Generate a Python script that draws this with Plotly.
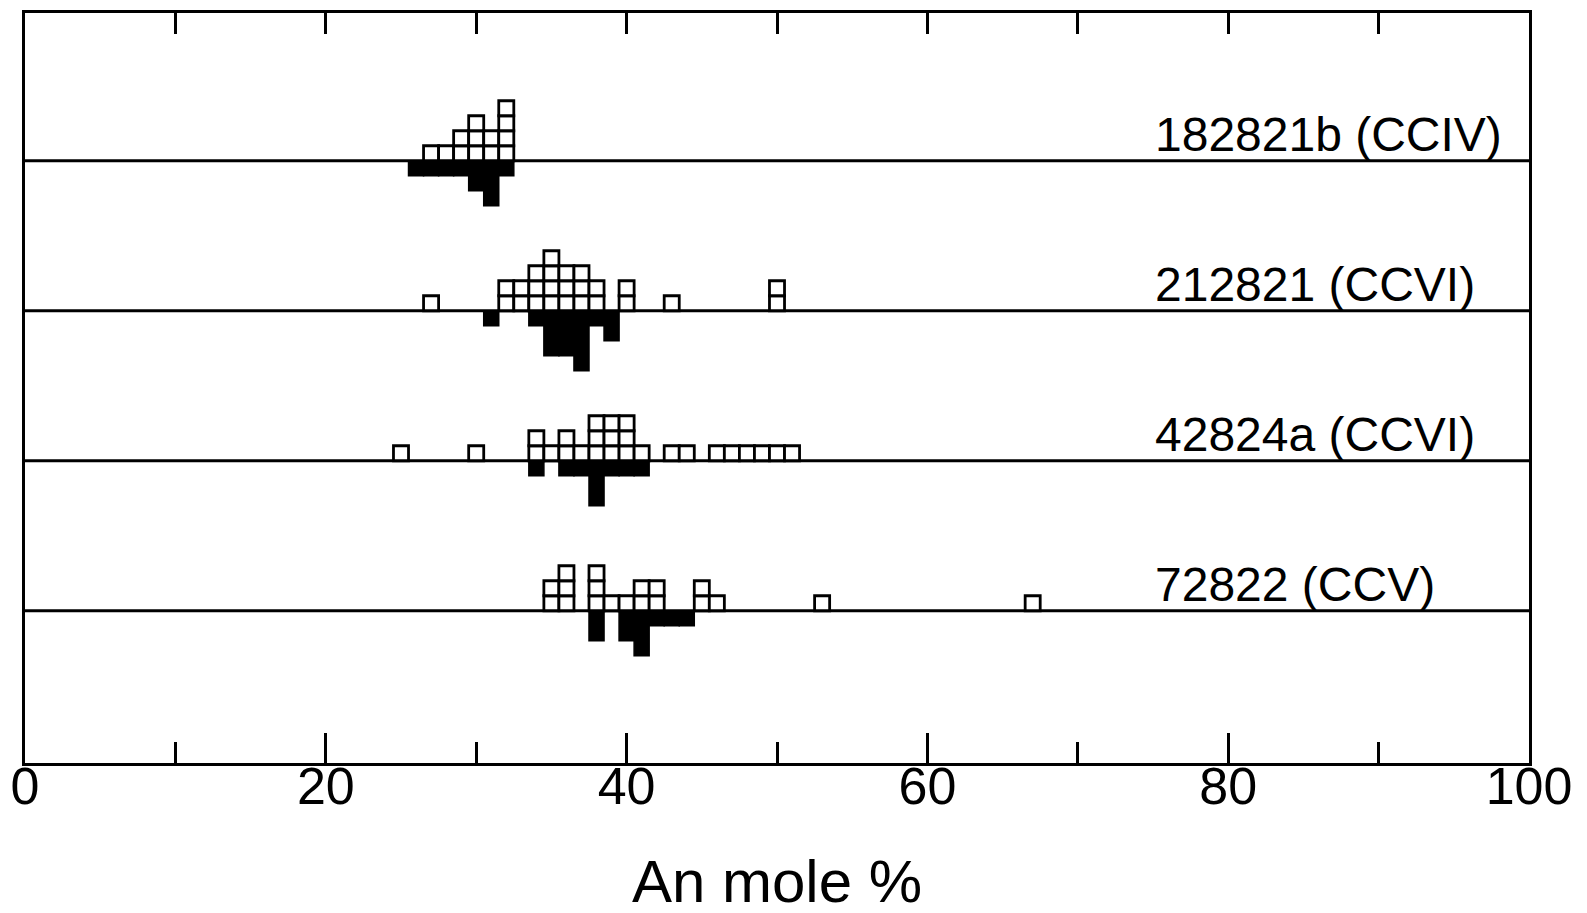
import plotly.graph_objects as go

# ---------------- data (An mole % bins, square counts) ----------------
samples = ["182821b (CCIV)", "212821 (CCVI)", "42824a (CCVI)", "72822 (CCV)"]

open_182821b_an = [27, 28, 29, 30, 31, 32]
open_182821b_n = [1, 1, 2, 3, 2, 4]
filled_182821b_an = [26, 27, 28, 29, 30, 31, 32]
filled_182821b_n = [1, 1, 1, 1, 2, 3, 1]

open_212821_an = [27, 32, 33, 34, 35, 36, 37, 38, 40, 43, 50]
open_212821_n = [1, 2, 2, 3, 4, 3, 3, 2, 2, 1, 2]
filled_212821_an = [31, 34, 35, 36, 37, 38, 39]
filled_212821_n = [1, 1, 3, 3, 4, 1, 2]

open_42824a_an = [25, 30, 34, 35, 36, 37, 38, 39, 40, 41, 43, 44, 46, 47, 48, 49, 50, 51]
open_42824a_n = [1, 1, 2, 1, 2, 1, 3, 3, 3, 1, 1, 1, 1, 1, 1, 1, 1, 1]
filled_42824a_an = [34, 36, 37, 38, 39, 40, 41]
filled_42824a_n = [1, 1, 1, 3, 1, 1, 1]

open_72822_an = [35, 36, 38, 39, 40, 41, 42, 45, 46, 53, 67]
open_72822_n = [2, 3, 3, 1, 1, 2, 2, 2, 1, 1, 1]
filled_72822_an = [38, 40, 41, 42, 43, 44]
filled_72822_n = [2, 2, 3, 1, 1, 1]

x_tick_labels = [0, 20, 40, 60, 80, 100]
x_minor_ticks = [10, 30, 50, 70, 90]
x_top_ticks = [10, 20, 30, 40, 50, 60, 70, 80, 90]
x_title = "An mole %"

rows = [
    (open_182821b_an, open_182821b_n, filled_182821b_an, filled_182821b_n),
    (open_212821_an, open_212821_n, filled_212821_an, filled_212821_n),
    (open_42824a_an, open_42824a_n, filled_42824a_an, filled_42824a_n),
    (open_72822_an, open_72822_n, filled_72822_an, filled_72822_n),
]

# ---------------- figure ----------------
XR = [0.0, 100.0]
YR = [-0.15, 49.85]
FONT = "Liberation Sans, Arial, sans-serif"
LW = 3

fig = go.Figure()
shapes = []
annotations = []

for i, (oa, on, fa, fn) in enumerate(rows):
    base_y = 10 * (len(rows) - i)
    shapes.append(dict(type="line", xref="paper", yref="y", x0=0, x1=1,
                       y0=base_y, y1=base_y, layer="below",
                       line=dict(color="black", width=LW)))
    # filled (below baseline)
    fig.add_trace(go.Bar(
        x=fa, y=fn, base=[base_y - n for n in fn], width=1,
        marker=dict(color="black", line=dict(color="black", width=1.5)),
        showlegend=False, hoverinfo="skip"))
    # open squares (above baseline)
    xs, bases = [], []
    for a, n in zip(oa, on):
        for j in range(n):
            xs.append(a)
            bases.append(base_y + j)
    fig.add_trace(go.Bar(
        x=xs, y=[1] * len(xs), base=bases, width=1,
        marker=dict(color="white", line=dict(color="black", width=2.8)),
        showlegend=False, hoverinfo="skip"))
    annotations.append(dict(
        x=75.0, y=base_y + 1.75, xref="x", yref="y", text=samples[i],
        showarrow=False, xanchor="left", yanchor="middle",
        font=dict(family=FONT, size=48, color="black")))

# invisible trace for top axis
fig.add_trace(go.Scatter(x=[50], y=[25], xaxis="x2", mode="markers",
                         marker=dict(opacity=0), showlegend=False, hoverinfo="skip"))

fig.update_layout(
    width=1587, height=913,
    margin=dict(l=17, r=66, t=5, b=158, autoexpand=False),
    paper_bgcolor="white", plot_bgcolor="white",
    barmode="overlay",
    shapes=shapes, annotations=annotations,
    xaxis=dict(
        range=XR, showgrid=False, zeroline=False, automargin=False,
        showline=True, linecolor="black", linewidth=LW, mirror=True,
        ticks="inside", tickvals=x_tick_labels, ticktext=[str(v) for v in x_tick_labels],
        ticklen=30, tickwidth=LW, tickcolor="black",
        ticklabelstandoff=-24,
        minor=dict(ticks="inside", tickvals=x_minor_ticks, ticklen=21,
                   tickwidth=LW, tickcolor="black", showgrid=False),
        tickfont=dict(family=FONT, size=52, color="black"),
        title=dict(text=x_title, font=dict(family=FONT, size=60, color="black"),
                   standoff=46),
    ),
    xaxis2=dict(
        range=XR, overlaying="x", side="top", showgrid=False, zeroline=False,
        automargin=False,
        showline=False, ticks="inside", tickvals=x_top_ticks, ticklen=21,
        tickwidth=LW, tickcolor="black", showticklabels=False,
    ),
    yaxis=dict(
        range=YR, showgrid=False, zeroline=False, showticklabels=False,
        automargin=False,
        showline=True, linecolor="black", linewidth=LW, mirror=True, ticks="",
    ),
)

fig.write_html("out.html")
